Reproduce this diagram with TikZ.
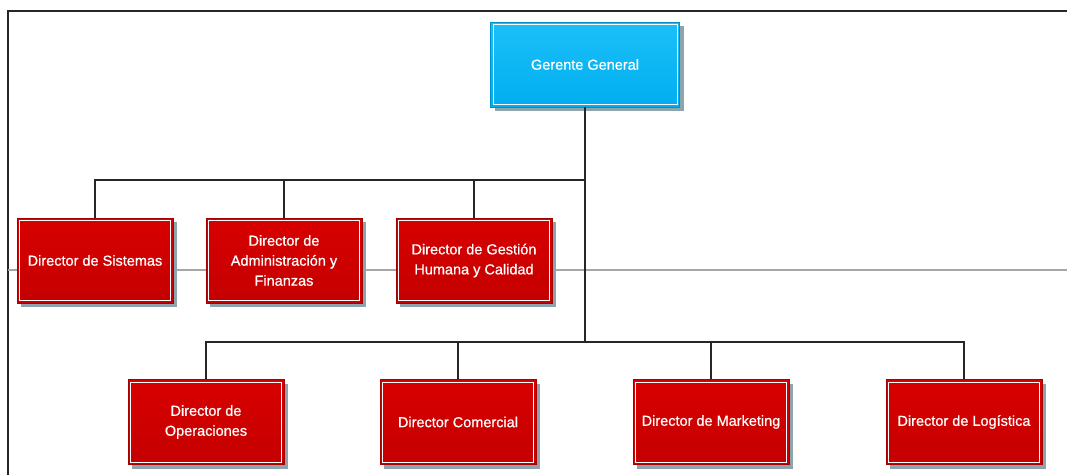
\documentclass[tikz,border=0pt]{standalone}
\usepackage{fontspec}
\setmainfont{Liberation Sans}
\newfontfamily\boxfont[FakeBold=0.6]{Liberation Sans}
\usetikzlibrary{shadows}
\definecolor{boxred}{HTML}{D80000}
\definecolor{boxredlow}{HTML}{C40000}
\definecolor{boxredline}{HTML}{A80000}
\definecolor{boxcyan}{HTML}{1CC0F8}
\definecolor{boxcyanlow}{HTML}{00AEEF}
\definecolor{boxcyanline}{HTML}{0090C8}
\definecolor{shadowgray}{HTML}{8DA3AD}
\tikzset{
  orgbox/.style={rectangle, draw=boxredline, line width=0.6pt,
    top color=boxred, bottom color=boxredlow, text=white, align=center,
    font=\boxfont\fontsize{14.5}{20}\selectfont,
    drop shadow={shadow xshift=4pt, shadow yshift=-4pt, fill=shadowgray, opacity=1},
    minimum width=156pt, minimum height=85pt, inner sep=2pt},
  headbox/.style={orgbox, draw=boxcyanline, top color=boxcyan, bottom color=boxcyanlow,
    minimum width=189pt},
  link/.style={line width=1.3pt, black!85},
  innerline/.style={white, line width=1pt}
}
\begin{document}
\begin{tikzpicture}[x=1pt, y=-1pt]
  \useasboundingbox (0,0) rectangle (1067,475);
  % frame and background guide line
  \draw[line width=1.8pt, black!85] (8,475) -- (8,11) -- (1067,11);
  \draw[line width=1.2pt, black!35] (8,270) -- (1067,270);

  % hub points of the connectors
  \coordinate (hubA) at (585,180);
  \coordinate (hubB) at (585,342);

  % connectors
  \draw[link] (hubA) -- (hubB);
  \draw[link] (96,180) -- (hubA);
  \draw[link] (206,342) -- (964,342);

  % boxes
  \node[headbox] (gg) at (585,64.5) {Gerente General};
  \node[orgbox] (sis) at (95,260.5) {Director de Sistemas};
  \node[orgbox] (adm) at (284,260.5) {Director de\\Administración y\\Finanzas};
  \node[orgbox] (ges) at (474,260.5) {Director de Gestión\\Humana y Calidad};
  \node[orgbox] (ope) at (206,422) {Director de\\Operaciones};
  \node[orgbox] (com) at (458,422) {Director Comercial};
  \node[orgbox] (mkt) at (711,422) {Director de Marketing};
  \node[orgbox] (log) at (964,422) {Director de Logística};

  % white inner borders
  \foreach \n in {gg,sis,adm,ges,ope,com,mkt,log}
    \draw[innerline] ([shift={(2.8pt,-2.8pt)}]\n.north west) rectangle ([shift={(-2.8pt,2.8pt)}]\n.south east);

  % drops
  \draw[link] (gg.south) -- (hubA);
  \draw[link] (hubA) -| (sis.north);
  \draw[link] (hubA) -| (adm.north);
  \draw[link] (hubA) -| (ges.north);
  \draw[link] (hubB) -| (ope.north);
  \draw[link] (hubB) -| (com.north);
  \draw[link] (hubB) -| (mkt.north);
  \draw[link] (hubB) -| (log.north);
\end{tikzpicture}
\end{document}
